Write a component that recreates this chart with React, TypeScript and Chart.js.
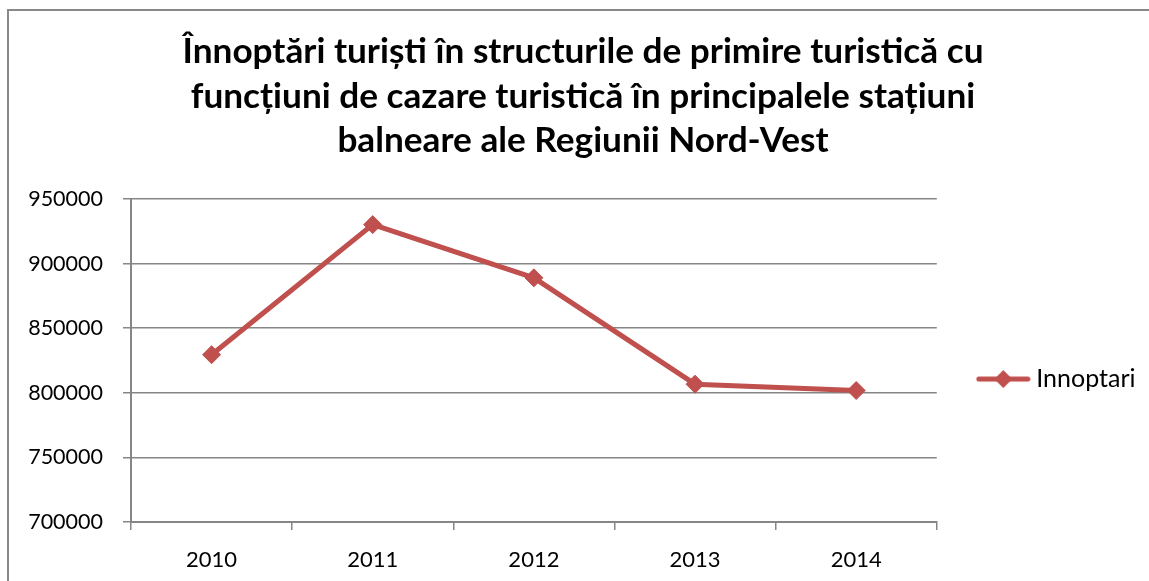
import React, { useEffect, useRef } from "react";
import { Chart, registerables } from "chart.js";

Chart.register(...registerables);

const categories = ["2010", "2011", "2012", "2013", "2014"];
const seriesName = "Innoptari";
const seriesValues = [829500, 930200, 889000, 806700, 801800];
const titleLines = [
  "Înnoptări turiști în structurile de primire turistică cu",
  "funcțiuni de cazare turistică în principalele stațiuni",
  "balneare ale Regiunii Nord-Vest",
];
const yMin = 700000;
const yMax = 950000;
const yStep = 50000;

const RED = "#C0504D";
const GRID = "#868686";
const FONT = "Lato, 'Open Sans', sans-serif";

function makeLegendMarker(): HTMLCanvasElement {
  const c = document.createElement("canvas");
  c.width = 55;
  c.height = 20;
  const ctx = c.getContext("2d")!;
  ctx.strokeStyle = RED;
  ctx.lineWidth = 5;
  ctx.lineCap = "round";
  ctx.beginPath();
  ctx.moveTo(3, 10);
  ctx.lineTo(52, 10);
  ctx.stroke();
  ctx.fillStyle = RED;
  ctx.beginPath();
  ctx.moveTo(27.5 - 9, 10);
  ctx.lineTo(27.5, 1);
  ctx.lineTo(27.5 + 9, 10);
  ctx.lineTo(27.5, 19);
  ctx.closePath();
  ctx.fill();
  return c;
}

export default function App() {
  const ref = useRef<HTMLCanvasElement | null>(null);

  useEffect(() => {
    if (!ref.current) return;
    const marker = makeLegendMarker();
    const chart = new Chart(ref.current, {
      type: "line",
      data: {
        labels: categories,
        datasets: [
          {
            label: seriesName,
            data: seriesValues,
            borderColor: RED,
            backgroundColor: RED,
            borderWidth: 5,
            pointStyle: "rectRot",
            pointRadius: 9,
            pointBorderWidth: 1,
            pointBackgroundColor: RED,
            pointBorderColor: RED,
            tension: 0,
          },
        ],
      },
      options: {
        animation: false,
        responsive: false,
        maintainAspectRatio: false,
        layout: { padding: { left: 20.5, right: 20.5, top: 0, bottom: 0 } },
        plugins: {
          title: {
            display: true,
            text: titleLines,
            color: "#000",
            font: { family: FONT, size: 35.2, weight: "bold", lineHeight: 1.256 },
            padding: { top: 30, bottom: 36.4 },
          },
          legend: {
            display: true,
            position: "right",
            fullSize: false,
            title: {
              display: true,
              text: "",
              font: { size: 10, lineHeight: 1.2 },
              padding: { top: 0, bottom: 25 },
            },
            labels: {
              usePointStyle: true,
              pointStyle: marker as any,
              pointStyleWidth: 41,
              padding: 46,
              color: "#000",
              font: { family: FONT, size: 25 },
            },
          },
          tooltip: { enabled: false },
        },
        scales: {
          x: {
            type: "category",
            offset: true,
            grid: {
              offset: true,
              drawOnChartArea: false,
              drawTicks: true,
              tickLength: 8,
              color: GRID,
              lineWidth: 1.5,
            },
            border: { color: GRID, width: 2 },
            ticks: {
              color: "#000",
              font: { family: FONT, size: 22 },
              padding: 17,
              maxRotation: 0,
            },
            afterFit: (scale: any) => {
              scale.height = 59;
            },
          },
          y: {
            min: yMin,
            max: yMax,
            ticks: {
              stepSize: yStep,
              color: "#000",
              font: { family: FONT, size: 21.5 },
              padding: 20,
              callback: (v: any) => String(v),
            },
            grid: {
              color: GRID,
              lineWidth: 1.5,
              tickLength: 8,
            },
            border: { color: GRID, width: 2 },
            afterFit: (scale: any) => {
              scale.width = 110.5;
            },
          },
        },
      },
    });
    return () => chart.destroy();
  }, []);

  return (
    <div
      style={{
        position: "absolute",
        left: 0,
        top: 0,
        width: 1149,
        height: 581,
        overflow: "hidden",
        background: "#fff",
      }}
    >
      <div
        style={{
          position: "absolute",
          left: 7,
          top: 9,
          width: 1200,
          height: 620,
          border: "2px solid #898989",
          boxSizing: "border-box",
        }}
      />
      <canvas
        ref={ref}
        width={1166}
        height={581}
        style={{ position: "absolute", left: 0, top: 0, width: 1166, height: 581 }}
      />
    </div>
  );
}
